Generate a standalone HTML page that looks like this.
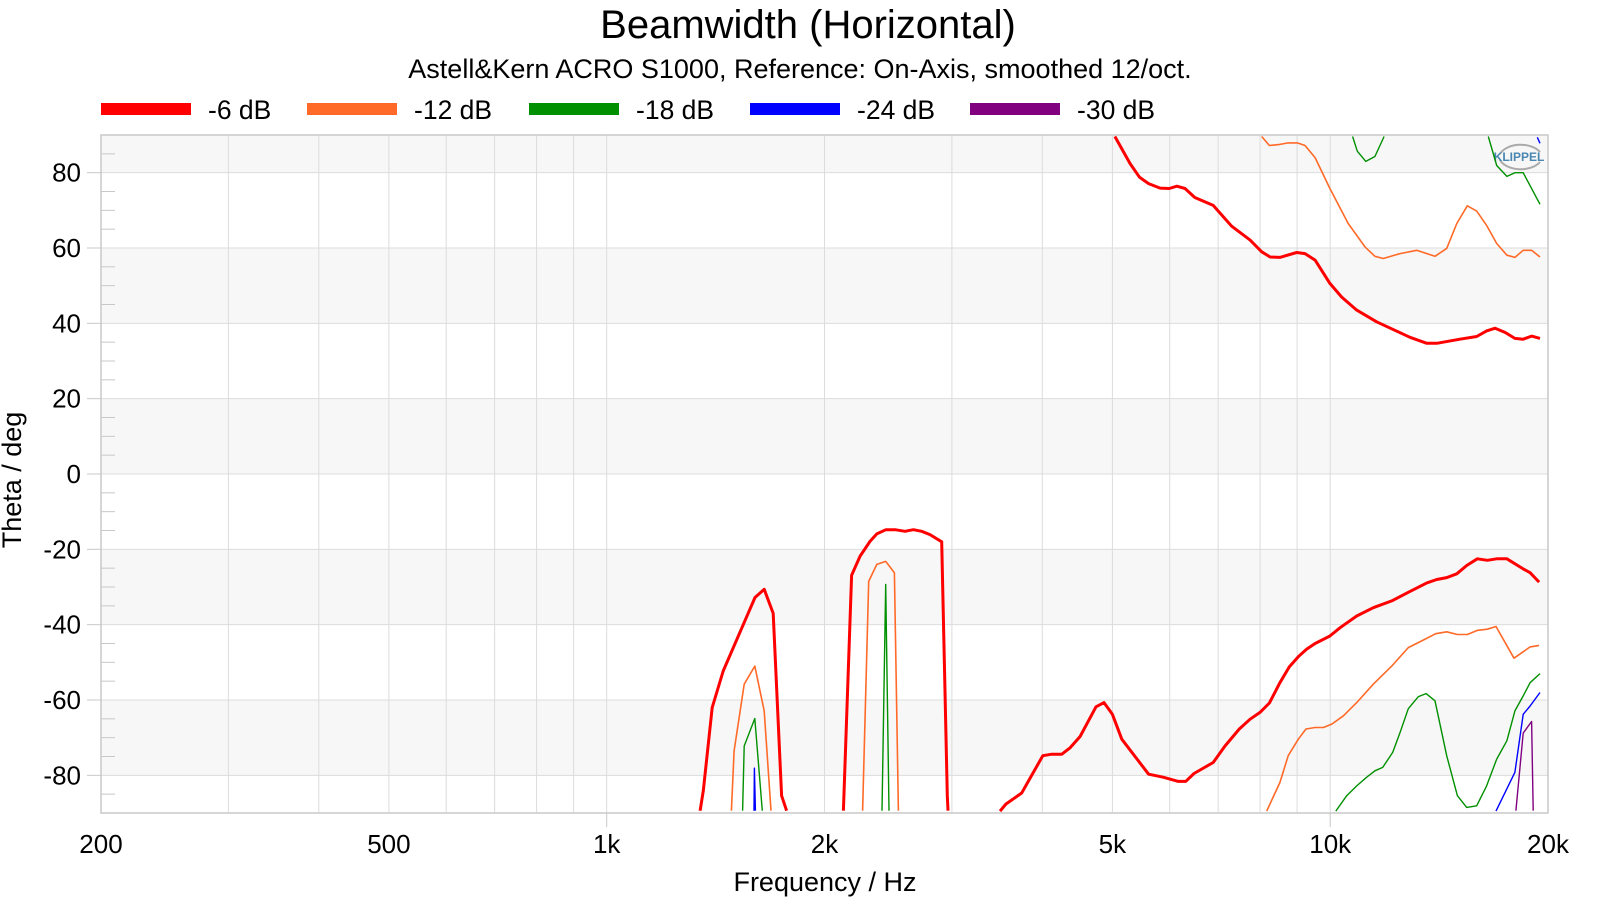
<!DOCTYPE html>
<html><head><meta charset="utf-8"><style>
html,body{margin:0;padding:0;background:#fff;}
body{width:1600px;height:900px;overflow:hidden;font-family:"Liberation Sans",Arial,sans-serif;}
svg text{font-family:"Liberation Sans",Arial,sans-serif;}
</style></head><body>
<svg id="chart" width="1600" height="900" viewBox="0 0 1600 900" xmlns="http://www.w3.org/2000/svg">
<text x="808" y="38" font-size="40" text-anchor="middle" fill="#000">Beamwidth (Horizontal)</text>
<text x="800" y="78" font-size="27" text-anchor="middle" fill="#000">Astell&amp;Kern ACRO S1000, Reference: On-Axis, smoothed 12/oct.</text>
<g id="legend"></g>
<g id="bands"></g>
<g id="grid"></g>
<g id="logo">
<path d="M1500 154 A22 14 0 0 1 1540 152" fill="none" stroke="#aaa" stroke-width="2"/>
<path d="M1500 160 A22 14 0 0 0 1540 162" fill="none" stroke="#aaa" stroke-width="2"/>
<text x="1519" y="161" font-size="12" font-weight="bold" text-anchor="middle" fill="#4a86b0">KLIPPEL</text>
</g>
<g id="series"></g>
<g id="axes"></g>
<text x="825" y="891" font-size="27" text-anchor="middle" fill="#000">Frequency / Hz</text>
<text transform="translate(21,480) rotate(-90)" font-size="27" text-anchor="middle" fill="#000">Theta / deg</text>
</svg>
<script>
const xTickValues=[200,500,1000,2000,5000,10000,20000];
const xTickLabels=["200","500","1k","2k","5k","10k","20k"];
const yTickValues=[80,60,40,20,0,-20,-40,-60,-80];
const legendLabels=["-6 dB","-12 dB","-18 dB","-24 dB","-30 dB"];
const seriesColors=["#ff0000","#ff6a28","#009000","#0000ff","#800080"];
const seriesWidths=[3,1.6,1.4,1.4,1.4];

const s6F=[5040,5290,5450,5610,5820,5990,6140,6300,6500,6890,7310,7750,8040,8260,8520,8990,9230,9530,9990,10370,10880,11590,12890,13600,14040,15110,15940,16450,16900,17440,18000,18480,18980,19500,null,
1346,1360,1399,1449,1545,1603,1651,1699,1745,1773,null,
2124,2180,2240,2312,2362,2432,2504,2584,2654,2725,2798,2904,2956,2963,null,
3496,3564,3746,4006,4122,4256,4370,4511,4745,4868,5000,5152,5610,5878,6166,6314,6482,6890,7154,7488,7750,7998,8240,8520,8778,9034,9280,9530,9990,10320,10880,11470,12160,12820,13600,14040,14490,14960,15440,15970,16490,16990,17550,18480,18890,19440];
const s6D=[89.6,82.4,78.8,77.1,75.9,75.8,76.4,75.8,73.4,71.3,65.8,62.1,59.0,57.6,57.5,58.8,58.5,56.8,50.6,47.0,43.5,40.4,36.3,34.7,34.7,35.8,36.5,38.0,38.7,37.6,36.0,35.8,36.6,36.0,null,
-89.4,-84.1,-62.0,-52.3,-39.9,-32.8,-30.6,-37.0,-85.4,-89.4,null,
-89.4,-26.9,-21.8,-17.9,-15.9,-14.8,-14.8,-15.2,-14.8,-15.2,-16.1,-18.0,-85.4,-89.4,null,
-89.5,-87.6,-84.7,-74.8,-74.4,-74.4,-72.7,-69.7,-61.8,-60.7,-63.8,-70.4,-79.7,-80.5,-81.6,-81.6,-79.5,-76.6,-72.2,-67.7,-65.1,-63.3,-60.8,-55.4,-51.2,-48.5,-46.5,-45.0,-43.0,-40.8,-37.7,-35.5,-33.7,-31.4,-28.9,-28.0,-27.5,-26.5,-24.3,-22.5,-22.9,-22.5,-22.5,-25.2,-26.2,-28.7];

const s12F=[8040,8240,8520,8750,9010,9230,9530,9990,10590,11170,11530,11840,12490,13170,13960,14490,14960,15470,15940,16450,16990,17550,18000,18480,18980,19500,null,
1487,1500,1549,1602,1651,1687,null,
2258,2302,2362,2430,2498,2530,null,
8170,8520,8750,9034,9258,9530,9785,10050,10430,10880,11470,12160,12820,13380,13990,14490,14990,15470,15990,16490,16950,17950,18890,19440];
const s12D=[89.6,87.2,87.5,87.9,87.9,87.2,84.0,75.8,66.5,60.3,57.8,57.2,58.5,59.4,57.8,59.9,66.5,71.2,69.8,66.0,61.2,58.1,57.5,59.4,59.4,57.6,null,
-89.4,-73.5,-55.8,-51.0,-62.9,-89.4,null,
-89.4,-28.5,-24.0,-23.2,-26.2,-89.4,null,
-89.5,-81.9,-74.8,-70.4,-67.7,-67.3,-67.3,-66.4,-64.2,-60.7,-55.8,-51.0,-46.1,-44.3,-42.4,-41.9,-42.6,-42.6,-41.5,-41.2,-40.5,-48.9,-45.9,-45.5];

const s18F=[10740,10900,11200,11530,11870,null,
16540,16990,17550,18000,18480,19500,null,
1541,1549,1602,1641,null,
2402,2430,2456,null,
10180,10540,10880,11230,11530,11820,12200,12490,12820,13240,13570,13960,14490,14990,15440,15940,16450,16990,17550,18000,18480,18890,19500];
const s18D=[89.6,85.7,83.0,84.3,89.6,null,
89.6,81.9,79.0,80.0,80.0,71.6,null,
-89.4,-72.2,-64.9,-89.4,null,
-89.4,-29.3,-89.4,null,
-89.5,-85.4,-82.8,-80.5,-78.8,-77.9,-73.9,-68.6,-62.3,-59.1,-58.3,-60.2,-74.8,-85.4,-88.5,-88.1,-82.8,-75.7,-70.8,-62.9,-58.9,-55.4,-53.0];

const s24F=[19330,19500,null,1598,1600,1605,null,16950,18000,18480,18890,19500];
const s24D=[89.4,87.8,null,-89.4,-78.1,-89.4,null,-89.5,-79.2,-63.8,-61.6,-58.0];

const s30F=[18060,18480,18980,19080];
const s30D=[-89.4,-68.8,-65.7,-89.4];

const seriesF=[s6F,s12F,s18F,s24F,s30F];
const seriesD=[s6D,s12D,s18D,s24D,s30D];

const NS="http://www.w3.org/2000/svg";
const L=101,R=1548,T=135,B=813;
const fMin=200,fMax=20000,dMin=-90,dMax=90;
function xs(f){return L+(R-L)*Math.log10(f/fMin)/Math.log10(fMax/fMin);}
function ys(d){return B-(B-T)*(d-dMin)/(dMax-dMin);}
function mk(tag,attrs,parent){const e=document.createElementNS(NS,tag);for(const k in attrs)e.setAttribute(k,attrs[k]);parent.appendChild(e);return e;}

const bands=document.getElementById('bands');
mk('rect',{x:L,y:T,width:R-L,height:B-T,fill:'#fff'},bands);
const bandRanges=[[80,90],[40,60],[0,20],[-40,-20],[-80,-60]];
bandRanges.forEach(b=>{
  const r=mk('rect',{x:L,y:ys(b[1]),width:R-L,height:ys(b[0])-ys(b[1]),fill:'#f7f7f7'},bands);
  
  
});

const grid=document.getElementById('grid');
const minorF=[];
for(let dec=100;dec<=10000;dec*=10){for(let m=1;m<=9;m++){const f=m*dec;if(f>=200&&f<=20000)minorF.push(f);}}
minorF.push(20000);
minorF.forEach(f=>{
  const l=mk('line',{x1:xs(f),x2:xs(f),y1:T,y2:B,stroke:'#dcdcdc','stroke-width':1},grid);
  
  
});
yTickValues.forEach(d=>{
  const l=mk('line',{x1:L,x2:R,y1:ys(d),y2:ys(d),stroke:'#dcdcdc','stroke-width':1},grid);
  
  
});

const axes=document.getElementById('axes');
mk('rect',{x:L,y:T,width:R-L,height:B-T,fill:'none',stroke:'#c8c8c8','stroke-width':1.5},axes);
for(let d=-85;d<=85;d+=5){
  if(d%20===0)continue;
  mk('line',{x1:L,x2:L+14,y1:ys(d),y2:ys(d),stroke:'#c8c8c8','stroke-width':1},axes);
}
yTickValues.forEach(d=>{
  mk('line',{x1:L-14,x2:L,y1:ys(d),y2:ys(d),stroke:'#c8c8c8','stroke-width':1},axes);
  const t=mk('text',{x:81,y:ys(d)+9,'font-size':26,'text-anchor':'end',fill:'#000'},axes);
  
  
  t.textContent=String(d);
});
[1000,10000].forEach(f=>{mk('line',{x1:xs(f),x2:xs(f),y1:B,y2:B+14,stroke:'#c8c8c8','stroke-width':1},axes);});
xTickValues.forEach((f,i)=>{
  const t=mk('text',{x:xs(f),y:853,'font-size':26,'text-anchor':'middle',fill:'#000'},axes);
  
  
  t.textContent=xTickLabels[i];
});

const sg=document.getElementById('series');
const clip=mk('clipPath',{id:'plotclip'},sg);
mk('rect',{x:L,y:T,width:R-L,height:B-T},clip);
seriesF.forEach((F,si)=>{
  const D=seriesD[si];
  let d='',pen=false;
  for(let i=0;i<F.length;i++){
    if(F[i]===null||D[i]===null){pen=false;continue;}
    d+=(pen?'L':'M')+xs(F[i]).toFixed(1)+' '+ys(D[i]).toFixed(1)+' ';
    pen=true;
  }
  const p=mk('path',{d:d,fill:'none',stroke:seriesColors[si],'stroke-width':seriesWidths[si],'stroke-linejoin':'round','clip-path':'url(#plotclip)'},sg);
  
  
});

const lg=document.getElementById('legend');
const legX=[101,307,529,750,970];
legendLabels.forEach((lab,i)=>{
  const g=mk('g',{},lg);
  
  
  mk('rect',{x:legX[i],y:103,width:90,height:12,fill:seriesColors[i]},g);
  const t=mk('text',{x:legX[i]+107,y:119,'font-size':26.5,fill:'#000'},g);
  t.textContent=lab;
});
</script>
</body></html>
